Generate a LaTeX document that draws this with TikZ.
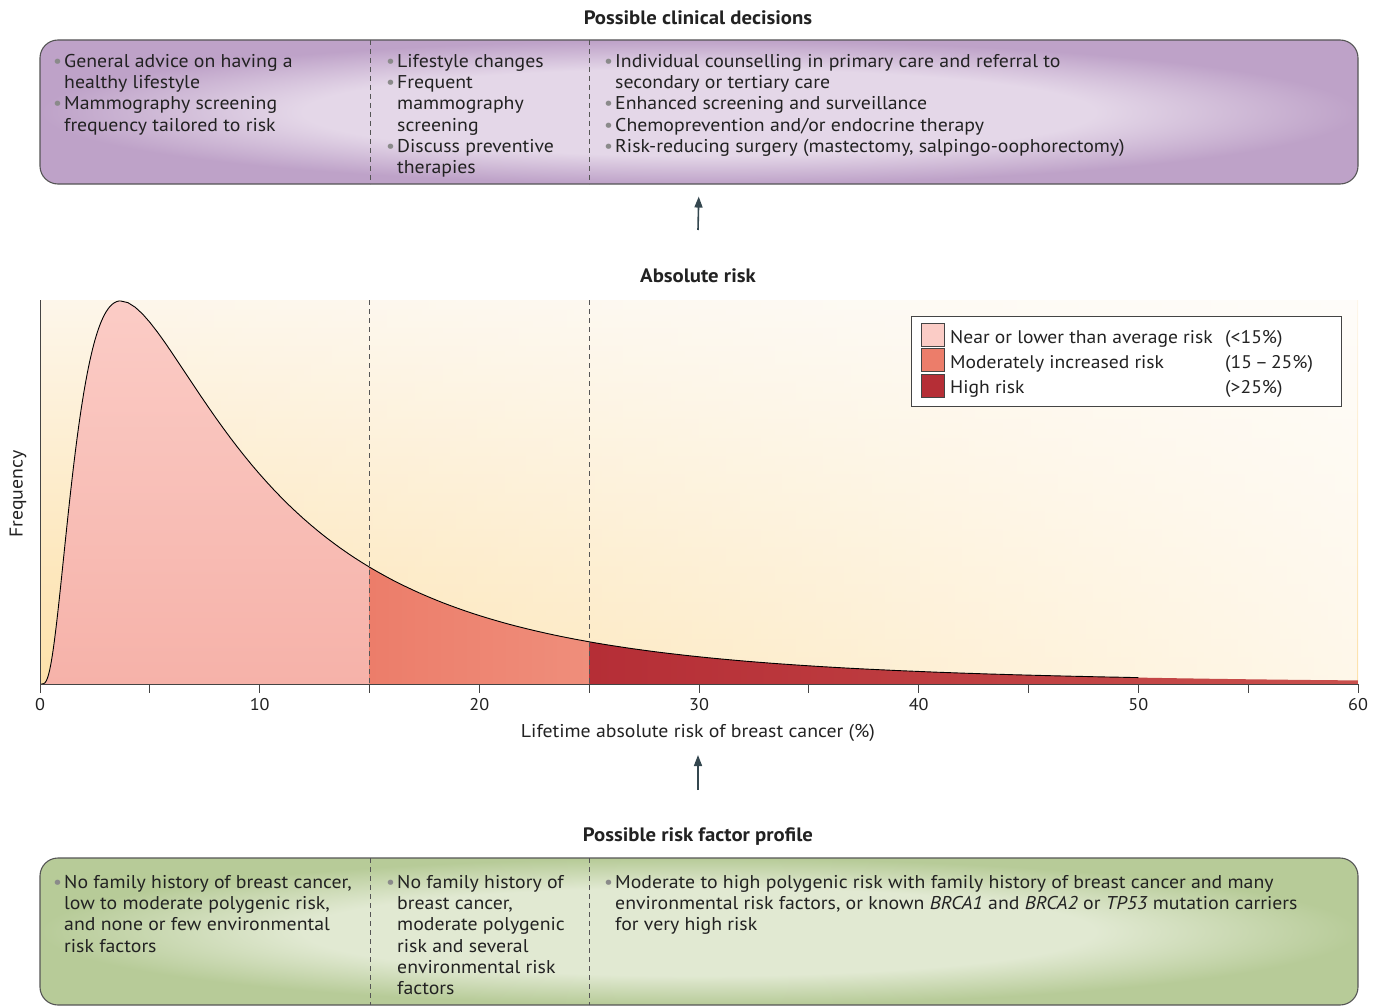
\documentclass[tikz,border=0pt]{standalone}
\usepackage{fontspec}
\setmainfont[FakeStretch=1.07]{PT Sans}
\usetikzlibrary{arrows.meta,fadings}
\definecolor{purpL}{HTML}{E4D7E8}
\definecolor{purpD}{HTML}{BEA2C8}
\definecolor{greenL}{HTML}{E1E9D2}
\definecolor{greenD}{HTML}{B7CB98}
\definecolor{boxedge}{HTML}{555555}
\definecolor{textc}{HTML}{222222}
\definecolor{bulgray}{HTML}{8A8A8A}
\definecolor{bgBot}{HTML}{FDE1AA}
\definecolor{bgTop}{HTML}{FDF6EA}
\definecolor{pinkT}{HTML}{FBCCC6}
\definecolor{pinkB}{HTML}{F6B2A9}
\definecolor{salL}{HTML}{EC7D6A}
\definecolor{salR}{HTML}{EF8E7B}
\definecolor{redL}{HTML}{B52E36}
\definecolor{redR}{HTML}{C94F4C}
\definecolor{arrc}{HTML}{34474F}
\definecolor{axc}{HTML}{444444}
\pgfdeclareradialshading{purpshade}{\pgfpoint{0bp}{0bp}}{color(0bp)=(purpL); color(15bp)=(purpL); color(25bp)=(purpD); color(50bp)=(purpD)}
\pgfdeclareradialshading{greenshade}{\pgfpoint{0bp}{0bp}}{color(0bp)=(greenL); color(15bp)=(greenL); color(25bp)=(greenD); color(50bp)=(greenD)}
\tikzfading[name=fadeR, left color=transparent!100, right color=transparent!25]
\newcommand{\bul}{\makebox[11pt][l]{\textcolor{bulgray}{\textbullet}}}
\newcommand{\ind}{\hspace*{11pt}}
\tikzset{
  bigbox/.style={draw=boxedge, line width=1.1pt, rounded corners=18pt, minimum width=1318pt, inner sep=0pt},
  coltext/.style={anchor=north west, inner sep=0pt, align=left, font=\fontsize{18.5}{21.3}\selectfont, text=textc},
  heading/.style={font=\fontsize{19.4}{22}\selectfont\bfseries, text=textc, inner sep=0pt},
  divider/.style={draw=boxedge, dash pattern=on 5pt off 4pt, line width=0.8pt},
  arr/.style={draw=arrc, line width=1.6pt, -{Triangle[length=11pt,width=8pt]}},
  axisline/.style={draw=axc, line width=0.9pt},
  ticklab/.style={font=\fontsize{17}{20}\selectfont, text=textc, inner sep=0pt},
  legtext/.style={font=\fontsize{18.3}{21}\selectfont, text=textc, inner sep=0pt, anchor=base west},
  swatch/.style={draw=axc, line width=0.7pt, minimum width=23pt, minimum height=23pt, inner sep=0pt},
  curve/.style={draw=black, line width=0.9pt},
  declare function={fl(\x)=383*exp(-((ln(\x)-1.30)^2)/1.36); fr(\x)=383*exp(-((ln(\x)-1.30)^2)/1.67);}
}
\begin{document}
\begin{tikzpicture}[x=1pt,y=-1pt]
\useasboundingbox (0,0) rectangle (1383,1006);
% ---------- top box
\node[heading] (toptitle) at (698,18) {Possible clinical decisions};
\node[bigbox, minimum height=144pt, shading=purpshade, shade] (topbox) at (699,112) {};
\draw[divider] (370,40) -- (370,184);
\draw[divider] (589,40) -- (589,184);
\node[coltext] (tc1) at (53,52.1) {\strut\bul General advice on having a\\ \ind healthy lifestyle\\ \bul Mammography screening\\ \ind frequency tailored to risk};
\node[coltext] (tc2) at (386,52.1) {\strut\bul Lifestyle changes\\ \bul Frequent\\ \ind mammography\\ \ind screening\\ \bul Discuss preventive\\ \ind therapies};
\node[coltext] (tc3) at (604,52.1) {\strut\bul Individual counselling in primary care and referral to\\ \ind secondary or tertiary care\\ \bul Enhanced screening and surveillance\\ \bul Chemoprevention and/or endocrine therapy\\ \bul Risk-reducing surgery (mastectomy, salpingo-oophorectomy)};
% arrow 1
\node[heading] (abs) at (698,276) {Absolute risk};
\coordinate (ar1) at (698,230);
\draw[arr] (ar1) -- (topbox.south) [shorten >=12pt];
% ---------- plot
\shade[top color=bgTop, bottom color=bgBot] (40,300) rectangle (1358,684);
\fill[white, path fading=fadeR] (40,300) rectangle (1358,684);
\shade[top color=pinkT, bottom color=pinkB] (40,684)
  -- plot[domain=0.02:3.67, samples=70] ({40+21.967*\x},{684-fl(\x)})
  -- plot[domain=3.67:15, samples=70] ({40+21.967*\x},{684-fr(\x)})
  -- (369.5,684) -- cycle;
\shade[left color=salL, right color=salR] (369.5,684)
  -- plot[domain=15:25, samples=40] ({40+21.967*\x},{684-fr(\x)})
  -- (589.2,684) -- cycle;
\shade[left color=redL, right color=redR] (589.2,684)
  -- plot[domain=25:60, samples=70] ({40+21.967*\x},{684-fr(\x)})
  -- (1358,684) -- cycle;
\draw[curve] plot[domain=0.02:3.67, samples=70] ({40+21.967*\x},{684-fl(\x)})
  -- plot[domain=3.67:50, samples=140] ({40+21.967*\x},{684-fr(\x)});
\draw[divider] (369.5,300) -- (369.5,684);
\draw[divider] (589.2,300) -- (589.2,684);
\draw[axisline] (40,300) -- (40,684) -- (1358,684);
\foreach \i in {0,...,12} \draw[axisline] ({40+109.833*\i},684) -- ++(0,9);
\foreach \v in {0,10,...,60} \node[ticklab] (t\v) at ({40+21.967*\v},705) {\v};
\node[ticklab, font=\fontsize{18.5}{21}\selectfont, rotate=90] (freq) at (18,494) {Frequency};
\node[ticklab, font=\fontsize{18.5}{21}\selectfont] (xlab) at (698,733) {Lifetime absolute risk of breast cancer (\%)};
% legend
\node[draw=axc, fill=white, line width=0.8pt, minimum width=430pt, minimum height=90pt, inner sep=0pt] (legend) at (1126,361) {};
\node[swatch, fill=pinkT] (sw1) at (932.5,334.5) {};
\node[swatch, fill=salL] (sw2) at (932.5,360) {};
\node[swatch, fill=redL] (sw3) at (932.5,385.5) {};
\node[legtext] (l1) at (950,343) {Near or lower than average risk};
\node[legtext] (l2) at (950,368) {Moderately increased risk};
\node[legtext] (l3) at (950,393) {High risk};
\node[legtext] (p1) at (1225,343) {(<15\%)};
\node[legtext] (p2) at (1225,368) {(15\,–\,25\%)};
\node[legtext] (p3) at (1225,393) {(>25\%)};
% arrow 2
\coordinate (ar2) at (698,790);
\coordinate (ar2h) at (698,755);
\draw[arr] (ar2) -- (ar2h);
% ---------- bottom box
\node[heading] (bottitle) at (698,837) {Possible risk factor profile};
\node[bigbox, minimum height=147pt, shading=greenshade, shade] (botbox) at (699,931.5) {};
\draw[divider] (370,858) -- (370,1005);
\draw[divider] (589,858) -- (589,1005);
\node[coltext] (bc1) at (53,873.1) {\strut\bul No family history of breast cancer,\\ \ind low to moderate polygenic risk,\\ \ind and none or few environmental\\ \ind risk factors};
\node[coltext] (bc2) at (386,873.1) {\strut\bul No family history of\\ \ind breast cancer,\\ \ind moderate polygenic\\ \ind risk and several\\ \ind environmental risk\\ \ind factors};
\node[coltext] (bc3) at (604,873.1) {\strut\bul Moderate to high polygenic risk with family history of breast cancer and many\\ \ind environmental risk factors, or known \textit{BRCA1} and \textit{BRCA2} or \textit{TP53} mutation carriers\\ \ind for very high risk};
\end{tikzpicture}
\end{document}
